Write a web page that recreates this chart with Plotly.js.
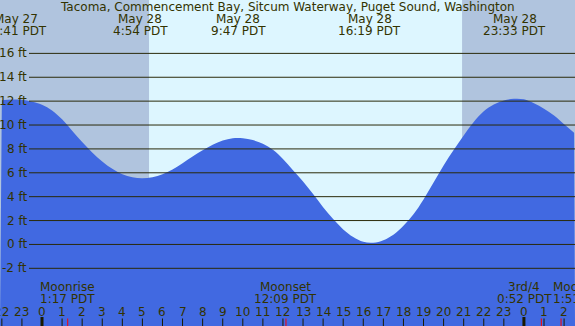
<!DOCTYPE html>
<html>
<head>
<meta charset="utf-8">
<script src="https://cdn.plot.ly/plotly-3.0.1.min.js"></script>
<style>
html,body{margin:0;padding:0;background:#ddf6ff;}
#chart{width:575px;height:326px;}
</style>
</head>
<body>
<div id="chart"></div>
<script>
const tideHours = [-2.0, -1.5, -1.0, -0.5, 0.0, 0.5, 1.0, 1.5, 2.0, 2.5, 3.0, 3.5, 4.0, 4.5, 5.0, 5.5,
  6.0, 6.5, 7.0, 7.5, 8.0, 8.5, 9.0, 9.5, 10.0, 10.5, 11.0, 11.5, 12.0, 12.5, 13.0, 13.5,
  14.0, 14.5, 15.0, 15.5, 16.0, 16.5, 17.0, 17.5, 18.0, 18.5, 19.0, 19.5, 20.0, 20.5, 21.0, 21.5,
  22.0, 22.5, 23.0, 23.5, 24.0, 24.5, 25.0, 25.5, 26.0, 26.5];
const tideFeet = [12.08, 12.13, 12.12, 11.95, 11.70, 11.22, 10.48, 9.52, 8.57, 7.70, 6.95, 6.33, 5.87, 5.62, 5.55, 5.63,
  5.88, 6.28, 6.80, 7.36, 7.88, 8.35, 8.70, 8.90, 8.90, 8.74, 8.43, 7.92, 7.16, 6.22, 5.28, 4.22,
  3.12, 2.12, 1.26, 0.62, 0.22, 0.15, 0.36, 0.82, 1.56, 2.52, 3.76, 5.18, 6.62, 7.90, 9.12, 10.25,
  11.15, 11.72, 12.06, 12.20, 12.15, 11.82, 11.36, 10.80, 10.06, 9.35];

const eventHours = [-1.32, 4.90, 9.78, 16.32, 23.55];
const eventDates = ["May 27", "May 28", "May 28", "May 28", "May 28"];
const eventTimes = ["22:41 PDT", "4:54 PDT", "9:47 PDT", "16:19 PDT", "23:33 PDT"];

const nightStart = [-2.092, 20.92];
const nightEnd = [5.33, 26.544];

const moonHours = [1.28, 12.15, 24.87, 25.85];
const moonNames = ["Moonrise", "Moonset", "3rd/4", "Moonrise"];
const moonTimes = ["1:17 PDT", "12:09 PDT", "0:52 PDT", "1:51 PDT"];

const hourTicks = [-2,-1,0,1,2,3,4,5,6,7,8,9,10,11,12,13,14,15,16,17,18,19,20,21,22,23,24,25,26];
const hourLabels = ["22","23","0","1","2","3","4","5","6","7","8","9","10","11","12","13","14","15","16","17","18","19","20","21","22","23","0","1","2"];
const midnightTicks = [0, 24];

const feetTicks = [-2, 0, 2, 4, 6, 8, 10, 12, 14, 16];
const feetLabels = ["-2 ft","0 ft","2 ft","4 ft","6 ft","8 ft","10 ft","12 ft","14 ft","16 ft"];

const title = "Tacoma, Commencement Bay, Sitcum Waterway, Puget Sound, Washington";

// ---- Layout constants ----
const W = 575, H = 326;
const XR = [-2.092, 26.544];
const YR = [-6.83, 20.47];
const TXT = "#333300";
const FONT = "DejaVu Sans";
const py = px => 1 - px / H; // pixel-from-top -> paper y
const F = {family:FONT, size:12, color:TXT};

const shapes = [];
const annotations = [];
function label(o) {
  annotations.push(Object.assign({showarrow:false, yanchor:"middle", borderpad:0, font:F}, o));
}

// night shading
for (let i = 0; i < nightStart.length; i++) {
  shapes.push({type:"rect", layer:"below", xref:"x", yref:"paper", x0:nightStart[i], x1:nightEnd[i], y0:0, y1:1,
    fillcolor:"#b0c4de", line:{width:0}});
}
// grid lines
feetTicks.forEach((f, i) => {
  shapes.push({type:"line", layer:"above", xref:"paper", yref:"y", x0:29/W, x1:1, y0:f, y1:f,
    line:{color:"#2a2a0a", width:1}});
  label({xref:"paper", yref:"y", x:28/W, y:f, text:feetLabels[i], xanchor:"right"});
});
// hour ticks and labels
hourTicks.forEach((h, i) => {
  const mid = midnightTicks.includes(h);
  shapes.push({type:"line", layer:"above", xref:"x", yref:"paper", x0:h, x1:h,
    y0:0, y1:(mid ? 9 : 7.5)/H, line:{color:"#1a1a00", width: mid ? 3 : 1}});
  label({xref:"x", yref:"paper", x:h, y:py(312), text:hourLabels[i], xanchor:"center"});
});
// moon ticks and labels
const moonShift = [0, 0, -17, -9];
const moonAnchor = ["center", "center", "center", "left"];
moonHours.forEach((h, i) => {
  shapes.push({type:"line", layer:"above", xref:"x", yref:"paper", x0:h, x1:h, y0:0, y1:7.5/H,
    line:{color:"#ff0000", width:1}});
  label({xref:"x", yref:"paper", x:h, y:py(287), text:moonNames[i], xanchor:moonAnchor[i], xshift:moonShift[i]});
  label({xref:"x", yref:"paper", x:h, y:py(299), text:moonTimes[i], xanchor:moonAnchor[i], xshift:moonShift[i]});
});
// tide event labels
eventHours.forEach((h, i) => {
  label({xref:"x", yref:"paper", x:h, y:py(19), text:eventDates[i], xanchor:"center"});
  label({xref:"x", yref:"paper", x:h, y:py(31), text:eventTimes[i], xanchor:"center"});
});
// title
label({xref:"paper", yref:"paper", x:0.5, y:py(7), text:title, xanchor:"center"});

const traces = [
  {x:[XR[0], XR[1]], y:[YR[0], YR[0]], mode:"lines", line:{width:0}, hoverinfo:"skip", showlegend:false},
  {x:tideHours, y:tideFeet, mode:"lines", line:{width:0, shape:"spline", smoothing:1},
   fill:"tonexty", fillcolor:"#4169e1", showlegend:false}
];

const layout = {
  width:W, height:H,
  margin:{l:0, r:0, t:0, b:0, pad:0},
  paper_bgcolor:"#ddf6ff", plot_bgcolor:"#ddf6ff",
  xaxis:{range:XR, visible:false, fixedrange:true},
  yaxis:{range:YR, visible:false, fixedrange:true},
  shapes:shapes, annotations:annotations, showlegend:false
};

Plotly.newPlot("chart", traces, layout, {staticPlot:true, displayModeBar:false});
</script>
</body>
</html>
